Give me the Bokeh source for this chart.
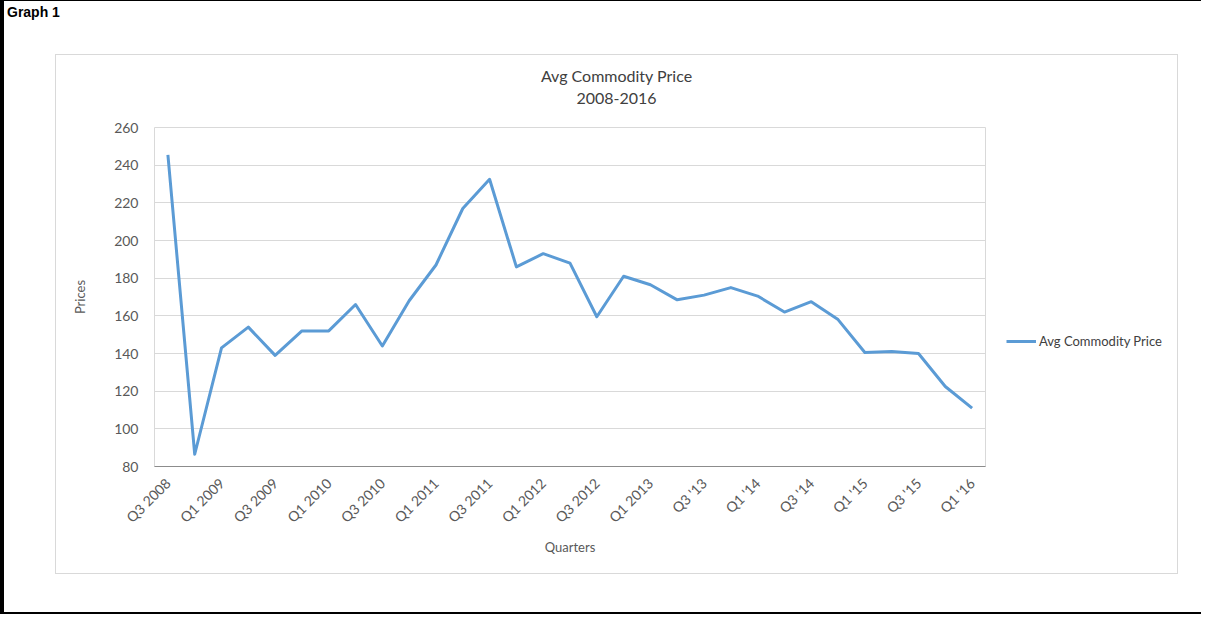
import math
from bokeh.plotting import figure
from bokeh.layouts import column, row
from bokeh.models import Range1d, FixedTicker, Legend, LegendItem, Div
from bokeh.embed import file_html
from bokeh.resources import INLINE

# ---- data ----
quarters = ["Q3 2008", "Q4 2008", "Q1 2009", "Q2 2009", "Q3 2009", "Q4 2009",
            "Q1 2010", "Q2 2010", "Q3 2010", "Q4 2010", "Q1 2011", "Q2 2011",
            "Q3 2011", "Q4 2011", "Q1 2012", "Q2 2012", "Q3 2012", "Q4 2012",
            "Q1 2013", "Q2 2013", "Q3 '13", "Q4 '13", "Q1 '14", "Q2 '14",
            "Q3 '14", "Q4 '14", "Q1 '15", "Q2 '15", "Q3 '15", "Q4 '15", "Q1 '16"]
prices = [245.5, 86.5, 143, 154, 139, 152, 152, 166, 144, 168, 187, 217,
          232.5, 186, 193, 188, 159.5, 181, 176.5, 168.5, 171, 175, 170.5, 162,
          167.5, 158, 140.5, 141, 140, 122.5, 111]
y_ticks = [80, 100, 120, 140, 160, 180, 200, 220, 240, 260]
series_name = "Avg Commodity Price"
title_lines = ["Avg Commodity Price", "2008-2016"]
caption = "Graph 1"

FONT = "Lato"
LINE_COLOR = "#5b9bd5"
TICK_COLOR = "#595959"
TEXT_COLOR = "#404040"

x_idx = list(range(len(quarters)))
shown_ticks = x_idx[::2]

# ---- main plot ----
p = figure(width=940, height=460, output_backend="svg", toolbar_location=None,
           title=None,
           x_range=Range1d(-0.5, len(quarters) - 0.5),
           y_range=Range1d(y_ticks[0], y_ticks[-1]),
           min_border_left=98, min_border_right=11,
           min_border_top=14, min_border_bottom=107)
p.background_fill_color = "white"
p.border_fill_color = "white"
p.outline_line_color = "#d9d9d9"
p.outline_line_width = 1

r = p.line(x_idx, prices, line_color=LINE_COLOR, line_width=3, line_join="round")

p.xaxis.ticker = FixedTicker(ticks=shown_ticks)
p.xaxis.major_label_overrides = {i: quarters[i] for i in shown_ticks}
p.xaxis.major_label_orientation = math.pi / 4
p.xaxis.major_tick_line_color = None
p.xaxis.minor_tick_line_color = None
p.xaxis.major_tick_out = 0
p.xaxis.major_label_standoff = 14
p.xaxis.axis_line_color = "#8c8c8c"
p.xaxis.axis_line_width = 1
p.xaxis.axis_label = "Quarters"
p.xaxis.axis_label_standoff = 4

p.yaxis.ticker = FixedTicker(ticks=y_ticks)
p.yaxis.major_tick_line_color = None
p.yaxis.minor_tick_line_color = None
p.yaxis.major_tick_out = 0
p.yaxis.major_label_standoff = 16
p.yaxis.axis_line_color = None
p.yaxis.axis_label = "Prices"
p.yaxis.axis_label_standoff = 23

for ax in (p.xaxis[0], p.yaxis[0]):
    ax.major_label_text_font = FONT
    ax.major_label_text_font_size = "14px"
    ax.major_label_text_color = TICK_COLOR
    ax.axis_label_text_font = FONT
    ax.axis_label_text_font_size = "13px"
    ax.axis_label_text_font_style = "normal"
    ax.axis_label_text_color = TICK_COLOR

p.xgrid.grid_line_color = None
p.ygrid.grid_line_color = "#d9d9d9"
p.ygrid.grid_line_width = 1

# ---- legend panel (separate small figure to the right of the plot area) ----
# the series is drawn here again but stays outside this panel's visible range;
# it only provides the legend key.
lf = figure(width=181, height=460, output_backend="svg", toolbar_location=None,
            title=None, x_axis_type=None, y_axis_type=None,
            x_range=Range1d(0, 1), y_range=Range1d(0, 1),
            min_border=0, min_border_left=0, min_border_right=0,
            min_border_top=0, min_border_bottom=0)
lf.outline_line_color = None
lf.xgrid.grid_line_color = None
lf.ygrid.grid_line_color = None
lf.background_fill_color = "white"
lf.border_fill_color = "white"
r_key = lf.line(x_idx, prices, line_color=LINE_COLOR, line_width=3)
legend = Legend(items=[LegendItem(label=series_name, renderers=[r_key])],
                location=(10, 116.8), padding=0, margin=0,
                glyph_width=30, glyph_height=14, label_height=14,
                label_standoff=3, border_line_color=None,
                background_fill_alpha=0,
                label_text_font=FONT, label_text_font_size="13px",
                label_text_color=TEXT_COLOR)
lf.add_layout(legend, "center")

# ---- title block inside the chart box ----
title_div = Div(
    text=('<div style="width:1121px;text-align:center;font-family:Lato;'
          'font-size:16px;color:%s;line-height:22px;padding-top:10px;">%s<br>%s</div>'
          % (TEXT_COLOR, title_lines[0], title_lines[1])),
    width=1121, height=58, margin=0)

plot_row = row(p, lf, spacing=0, margin=0)
chart_box = column(title_div, plot_row, width=1123, height=520, spacing=0,
                   margin=(0, 0, 0, 51))
chart_box.styles = {"border": "1px solid #d9d9d9", "box-sizing": "border-box"}

caption_div = Div(
    text=('<div style="font-family:\'Liberation Sans\';font-weight:bold;'
          'font-size:14px;color:black;padding:3px 0 0 3px;line-height:16px;">%s</div>'
          % caption),
    width=300, height=53, margin=0)

root = column(caption_div, chart_box, width=1201, height=614, spacing=0)
root.styles = {"border-left": "4px solid black", "border-top": "1px solid black",
               "border-bottom": "2px solid black", "box-sizing": "border-box"}

open("out.html", "w").write(file_html(root, INLINE))
